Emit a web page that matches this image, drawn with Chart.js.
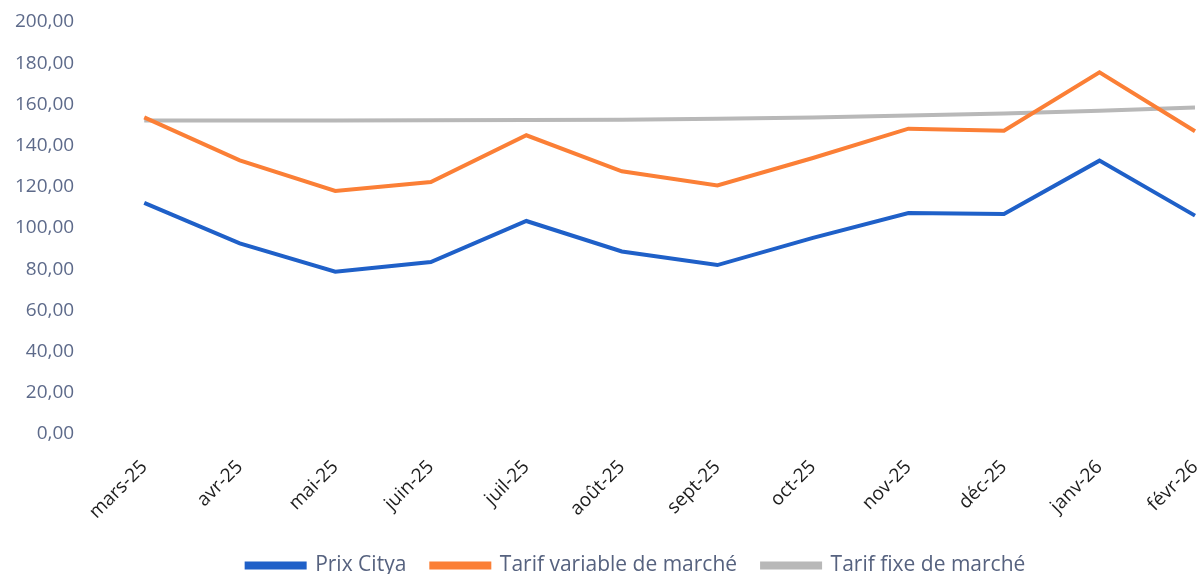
<!DOCTYPE html>
<html lang="fr">
<head>
    <meta charset="UTF-8">
    <title>Prix Citya</title>
    <script src="https://cdn.jsdelivr.net/npm/chart.js"></script>
    <style>
        html, body { margin: 0; padding: 0; background: #fff; }
        #wrap { width: 1203px; height: 574px; }
    </style>
</head>
<body>
    <div id="wrap"><canvas id="myChart"></canvas></div>
    <script>
        // données
        const mois = ['mars-25', 'avr-25', 'mai-25', 'juin-25', 'juil-25', 'août-25',
            'sept-25', 'oct-25', 'nov-25', 'déc-25', 'janv-26', 'févr-26'];
        const prixCitya = [112.2, 92.5, 78.8, 83.5, 103.4, 88.6, 82.0, 95.2, 107.3, 106.8, 132.7, 106.0];
        const tarifVariable = [153.7, 132.8, 118.0, 122.3, 145.0, 127.5, 120.7, 134.0, 148.2, 147.2, 175.6, 147.0];
        const tarifFixe = [152.2, 152.2, 152.2, 152.3, 152.4, 152.6, 153.0, 153.7, 154.6, 155.6, 156.9, 158.5];
        const yMin = 0, yMax = 200, yStep = 20;

        // décale la légende vers la droite comme dans Excel
        const legendShift = {
            id: 'legendShift',
            afterLayout: function (chart) {
                chart.legend.left += 62;
                chart.legend.right += 62;
            }
        };

        const ctx = document.getElementById('myChart');
        const mychart = new Chart(ctx, {
            type: 'line',
            data: {
                labels: mois,
                datasets: [{
                    label: 'Prix Citya',
                    data: prixCitya,
                    borderColor: '#1f60c8',
                    backgroundColor: '#1f60c8',
                    borderWidth: 4,
                    pointRadius: 0,
                    tension: 0
                }, {
                    label: 'Tarif variable de marché',
                    data: tarifVariable,
                    borderColor: '#fb7f36',
                    backgroundColor: '#fb7f36',
                    borderWidth: 4,
                    pointRadius: 0,
                    tension: 0
                }, {
                    label: 'Tarif fixe de marché',
                    data: tarifFixe,
                    borderColor: '#b8b8b8',
                    backgroundColor: '#b8b8b8',
                    borderWidth: 4,
                    pointRadius: 0,
                    tension: 0
                }]
            },
            plugins: [legendShift],
            options: {
                responsive: true,
                maintainAspectRatio: false,
                animation: false,
                layout: {
                    padding: { top: 22, right: 8, left: -47, bottom: -12 }
                },
                plugins: {
                    legend: {
                        position: 'bottom',
                        labels: {
                            boxWidth: 58,
                            boxHeight: 4,
                            padding: 25,
                            color: '#56627f',
                            font: { family: 'Open Sans', size: 21 }
                        }
                    },
                    tooltip: { enabled: false }
                },
                scales: {
                    x: {
                        offset: false,
                        grid: { display: false },
                        border: { display: false },
                        ticks: {
                            minRotation: 45,
                            maxRotation: 45,
                            padding: 14,
                            color: '#1e1e1e',
                            font: { family: 'Open Sans', size: 19 }
                        },
                        afterFit: function (scale) {
                            scale.height = 96;
                            scale.paddingLeft = 0;
                            scale.paddingRight = 0;
                        }
                    },
                    y: {
                        min: yMin,
                        max: yMax,
                        grid: { display: false },
                        border: { display: false },
                        ticks: {
                            stepSize: yStep,
                            padding: 62,
                            color: '#5d6a8a',
                            font: { family: 'Open Sans', size: 19 },
                            callback: function (v) {
                                return v.toFixed(2).replace('.', ',');
                            }
                        },
                        afterFit: function (scale) {
                            scale.paddingTop = 0;
                            scale.paddingBottom = 0;
                        }
                    }
                }
            }
        });
    </script>
</body>
</html>
